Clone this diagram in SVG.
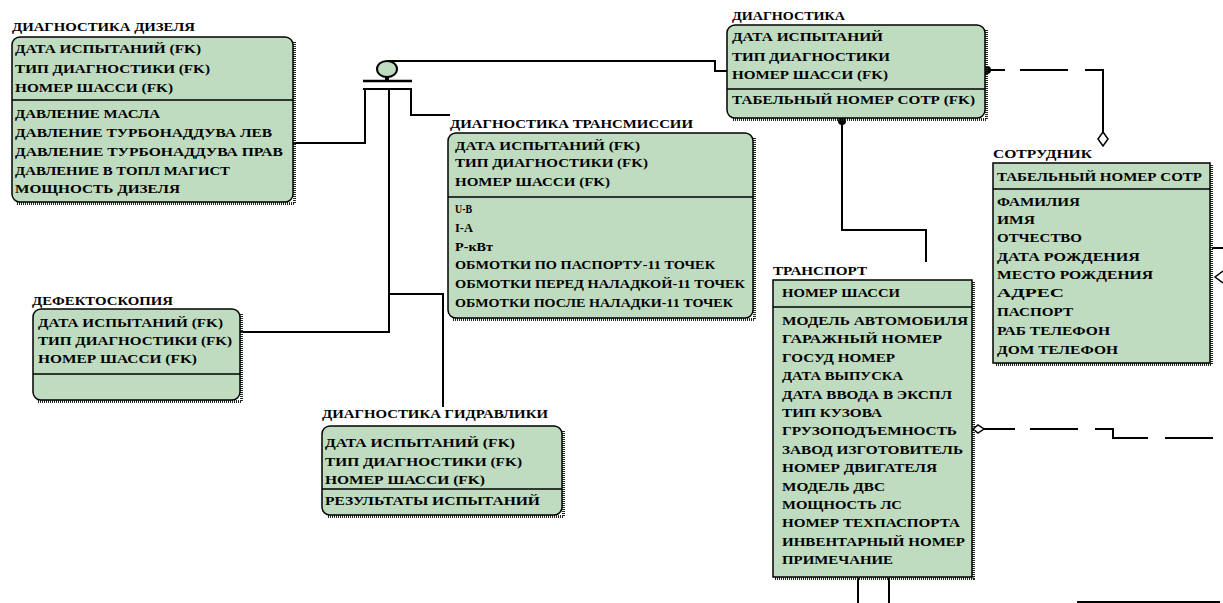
<svg xmlns="http://www.w3.org/2000/svg" width="1223" height="603" viewBox="0 0 1223 603">
<style>
.ent{fill:#c0dcc0;stroke:#000;stroke-width:1.5}
.sh{fill:none;stroke:#1e2a1e;stroke-width:3;stroke-dasharray:1 1}
.dv{stroke:#000;stroke-width:1.5}
text{font-family:"Liberation Serif","DejaVu Serif",serif;font-weight:bold;font-size:13px;fill:#000}
.cn{fill:none;stroke:#000;stroke-width:2}
.dot{fill:#000}
.dia{fill:#fff;stroke:#000;stroke-width:1.5}
</style>
<rect width="1223" height="603" fill="#fff"/>

<g id="connectors">
  <path class="cn" d="M388,61 H715 V71 H727"/>
  <path class="cn" d="M365,89 V143 H293"/>
  <path class="cn" d="M389,89 V332 H240"/>
  <path class="cn" d="M389,294 H443 V407"/>
  <path class="cn" d="M411,89 V115 H450"/>
  <path class="cn" d="M363,81 H412" style="stroke-width:2.5"/>
  <path class="cn" d="M363,89 H412"/>
  <path class="cn" d="M387,77 V81" style="stroke-width:4"/>
  <ellipse cx="387" cy="69" rx="10" ry="8" fill="#c0dcc0" stroke="#000" stroke-width="2"/>
  <path class="cn" d="M842,120 V230 H926 V262"/>
  <circle class="dot" cx="842" cy="121" r="4"/>
  <path class="cn" d="M989,70 H1005 M1020,70 H1068 M1085,70 H1103 V132"/>
  <circle class="dot" cx="987" cy="70" r="4"/>
  <polygon class="dia" points="1103,132 1108,139 1103,146 1098,139"/>
  <path class="cn" d="M984,429 H1015 M1030,429 H1078 M1095,429 H1113 V438 H1148 M1165,438 H1213"/>
  <polygon class="dia" points="973,429 978,425 984,429 978,433"/>
  <path class="cn" d="M858,578 V603 M889,578 V603"/>
  <path class="cn" d="M1077,602 H1220"/>
  <path class="cn" d="M1212,248 H1223"/>
  <path fill="none" stroke="#000" stroke-width="1.5" d="M1223,271 L1215,277 L1223,283"/>
</g>

<g id="diag-dizel">
  <text x="12" y="31" textLength="183" lengthAdjust="spacingAndGlyphs">ДИАГНОСТИКА ДИЗЕЛЯ</text>
  <path class="sh" d="M294.5,42 V203.5 H17"/>
  <rect class="ent" x="12" y="37" width="281" height="165" rx="8"/>
  <line class="dv" x1="12" y1="100" x2="293" y2="100"/>
  <text x="15" y="53" textLength="186" lengthAdjust="spacingAndGlyphs">ДАТА ИСПЫТАНИЙ (FK)</text>
  <text x="15" y="73" textLength="195" lengthAdjust="spacingAndGlyphs">ТИП ДИАГНОСТИКИ (FK)</text>
  <text x="15" y="92" textLength="158" lengthAdjust="spacingAndGlyphs">НОМЕР ШАССИ (FK)</text>
  <text x="15" y="118" textLength="145" lengthAdjust="spacingAndGlyphs">ДАВЛЕНИЕ МАСЛА</text>
  <text x="15" y="137" textLength="257" lengthAdjust="spacingAndGlyphs">ДАВЛЕНИЕ ТУРБОНАДДУВА ЛЕВ</text>
  <text x="15" y="156" textLength="268" lengthAdjust="spacingAndGlyphs">ДАВЛЕНИЕ ТУРБОНАДДУВА ПРАВ</text>
  <text x="15" y="175" textLength="215" lengthAdjust="spacingAndGlyphs">ДАВЛЕНИЕ В ТОПЛ МАГИСТ</text>
  <text x="15" y="193" textLength="165" lengthAdjust="spacingAndGlyphs">МОЩНОСТЬ ДИЗЕЛЯ</text>
</g>

<g id="diag-transmissii">
  <text x="450" y="128" textLength="243" lengthAdjust="spacingAndGlyphs">ДИАГНОСТИКА ТРАНСМИССИИ</text>
  <path class="sh" d="M754.5,138 V319.5 H453"/>
  <rect class="ent" x="448" y="133" width="305" height="185" rx="8"/>
  <line class="dv" x1="448" y1="197" x2="753" y2="197"/>
  <text x="455" y="150" textLength="185" lengthAdjust="spacingAndGlyphs">ДАТА ИСПЫТАНИЙ (FK)</text>
  <text x="455" y="167" textLength="193" lengthAdjust="spacingAndGlyphs">ТИП ДИАГНОСТИКИ (FK)</text>
  <text x="455" y="186" textLength="155" lengthAdjust="spacingAndGlyphs">НОМЕР ШАССИ (FK)</text>
  <text x="455" y="213" textLength="17" lengthAdjust="spacingAndGlyphs">U-В</text>
  <text x="455" y="232" textLength="18" lengthAdjust="spacingAndGlyphs">I-A</text>
  <text x="455" y="251" textLength="38" lengthAdjust="spacingAndGlyphs">P-кВт</text>
  <text x="455" y="269" textLength="260" lengthAdjust="spacingAndGlyphs">ОБМОТКИ ПО ПАСПОРТУ-11 ТОЧЕК</text>
  <text x="455" y="288" textLength="290" lengthAdjust="spacingAndGlyphs">ОБМОТКИ ПЕРЕД НАЛАДКОЙ-11 ТОЧЕК</text>
  <text x="455" y="307" textLength="278" lengthAdjust="spacingAndGlyphs">ОБМОТКИ ПОСЛЕ НАЛАДКИ-11 ТОЧЕК</text>
</g>

<g id="diagnostika">
  <text x="732" y="20" textLength="113" lengthAdjust="spacingAndGlyphs">ДИАГНОСТИКА</text>
  <path class="sh" d="M986.5,30 V119.5 H732"/>
  <rect class="ent" x="727" y="25" width="258" height="93" rx="8"/>
  <line class="dv" x1="727" y1="89" x2="985" y2="89"/>
  <text x="732" y="41" textLength="151" lengthAdjust="spacingAndGlyphs">ДАТА ИСПЫТАНИЙ</text>
  <text x="732" y="61" textLength="158" lengthAdjust="spacingAndGlyphs">ТИП ДИАГНОСТИКИ</text>
  <text x="732" y="79" textLength="156" lengthAdjust="spacingAndGlyphs">НОМЕР ШАССИ (FK)</text>
  <text x="732" y="104" textLength="243" lengthAdjust="spacingAndGlyphs">ТАБЕЛЬНЫЙ НОМЕР СОТР (FK)</text>
</g>

<g id="sotrudnik">
  <text x="993" y="158" textLength="99" lengthAdjust="spacingAndGlyphs">СОТРУДНИК</text>
  <path class="sh" d="M1211.5,165 V364.5 H995"/>
  <rect class="ent" x="993" y="163" width="217" height="200"/>
  <line class="dv" x1="993" y1="189" x2="1210" y2="189"/>
  <text x="997" y="181" textLength="205" lengthAdjust="spacingAndGlyphs">ТАБЕЛЬНЫЙ НОМЕР СОТР</text>
  <text x="997" y="206" textLength="83" lengthAdjust="spacingAndGlyphs">ФАМИЛИЯ</text>
  <text x="997" y="224" textLength="38" lengthAdjust="spacingAndGlyphs">ИМЯ</text>
  <text x="997" y="242" textLength="85" lengthAdjust="spacingAndGlyphs">ОТЧЕСТВО</text>
  <text x="997" y="261" textLength="143" lengthAdjust="spacingAndGlyphs">ДАТА РОЖДЕНИЯ</text>
  <text x="997" y="279" textLength="156" lengthAdjust="spacingAndGlyphs">МЕСТО РОЖДЕНИЯ</text>
  <text x="997" y="297" textLength="67" lengthAdjust="spacingAndGlyphs">АДРЕС</text>
  <text x="997" y="316" textLength="76" lengthAdjust="spacingAndGlyphs">ПАСПОРТ</text>
  <text x="997" y="335" textLength="113" lengthAdjust="spacingAndGlyphs">РАБ ТЕЛЕФОН</text>
  <text x="997" y="354" textLength="121" lengthAdjust="spacingAndGlyphs">ДОМ ТЕЛЕФОН</text>
</g>

<g id="transport">
  <text x="773" y="275" textLength="94" lengthAdjust="spacingAndGlyphs">ТРАНСПОРТ</text>
  <path class="sh" d="M973.5,282 V578.5 H775"/>
  <rect class="ent" x="773" y="280" width="199" height="297"/>
  <line class="dv" x1="773" y1="307" x2="972" y2="307"/>
  <text x="782" y="297" textLength="118" lengthAdjust="spacingAndGlyphs">НОМЕР ШАССИ</text>
  <text x="782" y="325" textLength="186" lengthAdjust="spacingAndGlyphs">МОДЕЛЬ АВТОМОБИЛЯ</text>
  <text x="782" y="343.4" textLength="160" lengthAdjust="spacingAndGlyphs">ГАРАЖНЫЙ НОМЕР</text>
  <text x="782" y="361.8" textLength="113" lengthAdjust="spacingAndGlyphs">ГОСУД НОМЕР</text>
  <text x="782" y="380.2" textLength="121" lengthAdjust="spacingAndGlyphs">ДАТА ВЫПУСКА</text>
  <text x="782" y="398.6" textLength="170" lengthAdjust="spacingAndGlyphs">ДАТА ВВОДА В ЭКСПЛ</text>
  <text x="782" y="417" textLength="100" lengthAdjust="spacingAndGlyphs">ТИП КУЗОВА</text>
  <text x="782" y="435.4" textLength="175" lengthAdjust="spacingAndGlyphs">ГРУЗОПОДЪЕМНОСТЬ</text>
  <text x="782" y="453.8" textLength="181" lengthAdjust="spacingAndGlyphs">ЗАВОД ИЗГОТОВИТЕЛЬ</text>
  <text x="782" y="472.2" textLength="155" lengthAdjust="spacingAndGlyphs">НОМЕР ДВИГАТЕЛЯ</text>
  <text x="782" y="490.6" textLength="103" lengthAdjust="spacingAndGlyphs">МОДЕЛЬ ДВС</text>
  <text x="782" y="509" textLength="120" lengthAdjust="spacingAndGlyphs">МОЩНОСТЬ ЛС</text>
  <text x="782" y="527.4" textLength="178" lengthAdjust="spacingAndGlyphs">НОМЕР ТЕХПАСПОРТА</text>
  <text x="782" y="545.8" textLength="183" lengthAdjust="spacingAndGlyphs">ИНВЕНТАРНЫЙ НОМЕР</text>
  <text x="782" y="564.2" textLength="111" lengthAdjust="spacingAndGlyphs">ПРИМЕЧАНИЕ</text>
</g>

<g id="defektoskopiya">
  <text x="32" y="305" textLength="141" lengthAdjust="spacingAndGlyphs">ДЕФЕКТОСКОПИЯ</text>
  <path class="sh" d="M241.5,314 V401.5 H38"/>
  <rect class="ent" x="33" y="309" width="207" height="91" rx="8"/>
  <line class="dv" x1="33" y1="374" x2="240" y2="374"/>
  <text x="38" y="327" textLength="185" lengthAdjust="spacingAndGlyphs">ДАТА ИСПЫТАНИЙ (FK)</text>
  <text x="38" y="345" textLength="194" lengthAdjust="spacingAndGlyphs">ТИП ДИАГНОСТИКИ (FK)</text>
  <text x="38" y="363" textLength="159" lengthAdjust="spacingAndGlyphs">НОМЕР ШАССИ (FK)</text>
</g>

<g id="diag-gidravliki">
  <text x="322" y="418" textLength="226" lengthAdjust="spacingAndGlyphs">ДИАГНОСТИКА ГИДРАВЛИКИ</text>
  <path class="sh" d="M563.5,431 V516.5 H327"/>
  <rect class="ent" x="322" y="426" width="240" height="89" rx="8"/>
  <line class="dv" x1="322" y1="489" x2="562" y2="489"/>
  <text x="325" y="447" textLength="190" lengthAdjust="spacingAndGlyphs">ДАТА ИСПЫТАНИЙ (FK)</text>
  <text x="325" y="466" textLength="197" lengthAdjust="spacingAndGlyphs">ТИП ДИАГНОСТИКИ (FK)</text>
  <text x="325" y="484" textLength="160" lengthAdjust="spacingAndGlyphs">НОМЕР ШАССИ (FK)</text>
  <text x="325" y="505" textLength="215" lengthAdjust="spacingAndGlyphs">РЕЗУЛЬТАТЫ ИСПЫТАНИЙ</text>
</g>
</svg>
